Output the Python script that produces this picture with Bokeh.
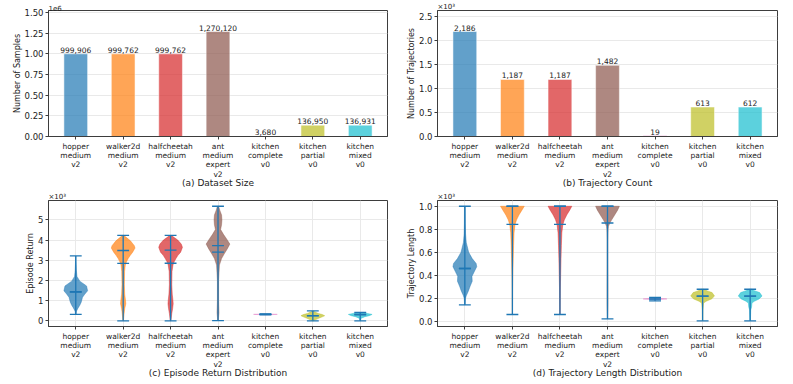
import numpy as np
from bokeh.plotting import figure
from bokeh.models import ColumnDataSource, FixedTicker, Range1d
from bokeh.layouts import row, column
from bokeh.core.properties import value
from bokeh.embed import file_html
from bokeh.resources import INLINE

# ---------------- data ----------------
datasets = ["hopper\nmedium\nv2", "walker2d\nmedium\nv2", "halfcheetah\nmedium\nv2",
            "ant\nmedium\nexpert\nv2", "kitchen\ncomplete\nv0", "kitchen\npartial\nv0",
            "kitchen\nmixed\nv0"]
colors = ["#1f77b4", "#ff7f0e", "#d62728", "#8c564b", "#e377c2", "#bcbd22", "#17becf"]

num_samples = [999906, 999762, 999762, 1270120, 3680, 136950, 136931]
num_trajectories = [2186, 1187, 1187, 1482, 19, 613, 612]

# episode return violin profiles (value, relative half-width)
ret_prof_y = [
    [320, 450, 530, 640, 770, 925, 1165, 1325, 1485, 1725, 1965, 2200, 2500, 2800, 3210],
    [0, 50, 360, 600, 840, 1000, 1320, 1800, 2440, 2760, 2920, 3080, 3240, 3400, 3600, 3720, 3960, 4230],
    [0, 50, 360, 600, 840, 1000, 1320, 1800, 2440, 2760, 2920, 3080, 3240, 3400, 3640, 3800, 4000, 4230],
    [10, 400, 1000, 2000, 2760, 3081, 3322, 3560, 3800, 4040, 4279, 4519, 4758, 4998, 5237, 5477, 5670],
    [300, 310, 320, 330, 340],
    [0, 48, 128, 200, 254, 310, 367, 447, 493],
    [0, 128, 207, 254, 318, 367, 414],
]
ret_prof_w = [
    [0.02, 0.05, 0.1, 0.2, 0.34, 0.46, 0.57, 0.77, 1.0, 0.91, 0.34, 0.1, 0.05, 0.03, 0.01],
    [0.02, 0.03, 0.08, 0.13, 0.22, 0.2, 0.13, 0.1, 0.12, 0.18, 0.28, 0.42, 0.6, 0.8, 1.0, 0.94, 0.61, 0.05],
    [0.02, 0.04, 0.1, 0.17, 0.22, 0.2, 0.14, 0.1, 0.12, 0.2, 0.3, 0.45, 0.62, 0.85, 1.0, 0.9, 0.6, 0.05],
    [0.02, 0.08, 0.05, 0.05, 0.12, 0.3, 0.53, 0.78, 1.0, 0.74, 0.46, 0.22, 0.3, 0.33, 0.3, 0.15, 0.05],
    [0.05, 0.6, 1.0, 0.6, 0.05],
    [0.05, 0.2, 0.5, 0.8, 1.0, 0.8, 0.45, 0.15, 0.05],
    [0.02, 0.08, 0.4, 0.75, 1.0, 0.6, 0.3],
]
ret_min = [320, 0, 0, 10, 300, 0, 0]
ret_max = [3210, 4230, 4230, 5670, 340, 493, 414]
ret_median = [1440, 3480, 3500, 3720, 320, 254, 318]
ret_mean = [1420, 2840, 2850, 3400, 320, 250, 300]

# trajectory length violin profiles
len_prof_y = [
    [145, 200, 224, 266, 308, 350, 392, 434, 476, 504, 546, 602, 686, 760, 850, 1000],
    [61, 150, 266, 406, 546, 658, 770, 840, 882, 924, 966, 1000],
    [61, 150, 266, 406, 546, 658, 770, 840, 882, 924, 966, 1000],
    [23, 150, 300, 500, 700, 800, 826, 855, 882, 924, 966, 1000],
    [180, 188, 193, 196, 199, 204, 210],
    [6, 100, 160, 176, 196, 221, 251, 266, 280],
    [6, 100, 126, 160, 176, 196, 221, 251, 266, 280],
]
len_prof_w = [
    [0.02, 0.05, 0.12, 0.3, 0.45, 0.62, 0.6, 0.8, 1.0, 0.95, 0.62, 0.32, 0.12, 0.06, 0.04, 0.03],
    [0.01, 0.015, 0.02, 0.04, 0.07, 0.1, 0.14, 0.22, 0.35, 0.55, 0.8, 1.0],
    [0.01, 0.02, 0.03, 0.06, 0.09, 0.12, 0.16, 0.24, 0.37, 0.57, 0.82, 1.0],
    [0.01, 0.04, 0.04, 0.03, 0.03, 0.05, 0.08, 0.2, 0.35, 0.6, 0.85, 1.0],
    [0.0, 0.05, 0.5, 1.0, 0.5, 0.05, 0.0],
    [0.02, 0.03, 0.08, 0.3, 0.75, 1.0, 0.8, 0.4, 0.1],
    [0.02, 0.05, 0.12, 0.15, 0.35, 0.75, 1.0, 0.8, 0.4, 0.1],
]
len_min = [145, 61, 61, 23, 180, 6, 6]
len_max = [1000, 1000, 1000, 1000, 210, 280, 280]
len_median = [460, 1000, 1000, 1000, 196, 221, 221]
len_mean = [460, 843, 843, 855, 195, 221, 221]

ya_ticks = [0, 250000, 500000, 750000, 1000000, 1250000, 1500000]
ya_labels = ["0.00", "0.25", "0.50", "0.75", "1.00", "1.25", "1.50"]
yb_ticks = [0, 500, 1000, 1500, 2000, 2500]
yb_labels = ["0.0", "0.5", "1.0", "1.5", "2.0", "2.5"]
yc_ticks = [0, 1000, 2000, 3000, 4000, 5000]
yc_labels = ["0", "1", "2", "3", "4", "5"]
yd_ticks = [0, 200, 400, 600, 800, 1000]
yd_labels = ["0.0", "0.2", "0.4", "0.6", "0.8", "1.0"]

BAR_WIDTH = 0.5
VIOLIN_WIDTH = 0.5
FONT = "DejaVu Sans"
FRAME = "#3d3d3d"
GRID = "#e9e9e9"
LINE_BLUE = "#1f77b4"
TEXT = "#222222"

idx = list(range(len(datasets)))
X_RANGE = (-0.575, 6.575)


def make_fig(width, height, yr, borders, yticks, ylabels, ylabel, caption, xgrid, expo):
    left, right, top, bottom = borders
    p = figure(width=width, height=height, output_backend="svg", toolbar_location=None,
               x_range=Range1d(*X_RANGE), y_range=Range1d(*yr),
               min_border_left=left, min_border_right=right,
               min_border_top=top, min_border_bottom=bottom,
               title=expo)
    p.title.align = "left"
    p.title.text_font = FONT
    p.title.text_font_size = "7px"
    p.title.text_font_style = "normal"
    p.title.text_color = TEXT
    p.title.standoff = 0
    p.title.offset = 0

    p.background_fill_color = "white"
    p.border_fill_color = "white"
    p.outline_line_color = FRAME
    p.outline_line_width = 1
    p.outline_line_alpha = 1

    p.xaxis.ticker = FixedTicker(ticks=idx)
    p.xaxis.major_label_overrides = {i: lab for i, lab in zip(idx, datasets)}
    p.xaxis.major_label_text_font_size = "7.5px"
    p.xaxis.major_label_text_line_height = 1.05
    p.xaxis.major_label_standoff = 2
    p.xaxis.axis_label = caption
    p.xaxis.axis_label_standoff = -4
    p.xaxis.axis_label_text_font_size = "9px"

    p.yaxis.ticker = FixedTicker(ticks=yticks)
    p.yaxis.major_label_overrides = {t: l for t, l in zip(yticks, ylabels)}
    p.yaxis.major_label_text_font_size = "8.5px"
    p.yaxis.major_label_standoff = 2
    p.yaxis.axis_label = ylabel
    p.yaxis.axis_label_standoff = 0
    p.yaxis.axis_label_text_font_size = "8px"

    for ax in (p.xaxis, p.yaxis):
        ax.axis_label_text_font_style = "normal"
        ax.axis_label_text_font = FONT
        ax.major_label_text_font = FONT
        ax.axis_label_text_color = TEXT
        ax.major_label_text_color = TEXT
        ax.axis_line_color = FRAME
        ax.major_tick_line_color = FRAME
        ax.major_tick_out = 3
        ax.major_tick_in = 0
        ax.minor_tick_line_color = None

    p.ygrid.grid_line_color = GRID
    p.xgrid.grid_line_color = GRID if xgrid else None
    return p


def bar_panel(p, values):
    src = ColumnDataSource(dict(x=idx, top=values, color=colors,
                                label=[f"{v:,}" for v in values]))
    p.vbar(x="x", top="top", width=BAR_WIDTH, fill_color="color", fill_alpha=0.7,
           line_color="white", line_width=0.5, source=src)
    p.text(x="x", y="top", text="label", source=src, text_align="center",
           text_baseline="bottom", text_font_size="7.5px", text_font=value(FONT),
           text_color=TEXT, y_offset=-1)


def violin_panel(p, prof_y, prof_w, vmin, vmax, vmed, vmean):
    half = VIOLIN_WIDTH / 2
    xs, ys = [], []
    for i, (py, pw) in enumerate(zip(prof_y, prof_w)):
        py = np.array(py, dtype=float)
        pw = np.array(pw, dtype=float) * half
        xs.append(list(i + pw) + list((i - pw)[::-1]))
        ys.append(list(py) + list(py[::-1]))
    p.patches(xs=xs, ys=ys, fill_color=colors, fill_alpha=0.7, line_color=colors,
              line_alpha=0.7, line_width=0.6)
    cap = VIOLIN_WIDTH / 4
    ia = np.array(idx, dtype=float)
    p.segment(x0=ia, y0=vmin, x1=ia, y1=vmax, line_color=LINE_BLUE, line_width=1.3)
    for vals in (vmin, vmax, vmed, vmean):
        p.segment(x0=ia - cap, y0=vals, x1=ia + cap, y1=vals,
                  line_color=LINE_BLUE, line_width=1.3)


pa = make_fig(397, 190, (0, 1.2 * max(num_samples)), (48, 10, 0, 51), ya_ticks, ya_labels,
              "Number of Samples", "(a) Dataset Size", False, "1e6")
bar_panel(pa, num_samples)

pb = make_fig(396, 190, (0, 1.2 * max(num_trajectories)), (40, 16, 0, 51), yb_ticks, yb_labels,
              "Number of Trajectories", "(b) Trajectory Count", False, "×10³")
bar_panel(pb, num_trajectories)

pc = make_fig(397, 194, (-280, 5955), (48, 10, 0, 58), yc_ticks, yc_labels,
              "Episode Return", "(c) Episode Return Distribution", True, "×10³")
violin_panel(pc, ret_prof_y, ret_prof_w, ret_min, ret_max, ret_median, ret_mean)

pd_ = make_fig(396, 194, (-43, 1050), (40, 16, 0, 58), yd_ticks, yd_labels,
               "Trajectory Length", "(d) Trajectory Length Distribution", True, "×10³")
violin_panel(pd_, len_prof_y, len_prof_w, len_min, len_max, len_median, len_mean)

layout = column(row(pa, pb), row(pc, pd_))

open("out.html", "w").write(file_html(layout, INLINE))
